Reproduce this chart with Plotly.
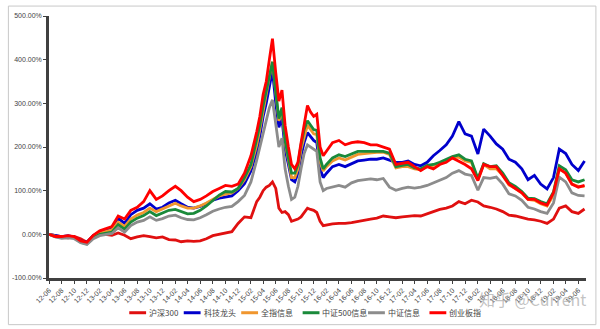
import plotly.graph_objects as go

# Sample dates: month starts, with half-month points through the 2015 boom and bust
dates = (
    ["2012-%02d-01" % m for m in range(6, 13)]
    + ["2013-%02d-01" % m for m in range(1, 13)]
    + ["2014-%02d-01" % m for m in range(1, 13)]
    + ["2015-01-01", "2015-02-01", "2015-03-01", "2015-03-16", "2015-04-01", "2015-04-16",
       "2015-05-01", "2015-05-16", "2015-06-01", "2015-06-16", "2015-07-01", "2015-07-16",
       "2015-08-01", "2015-08-16", "2015-09-01", "2015-09-16", "2015-10-01", "2015-10-16",
       "2015-11-01", "2015-11-16", "2015-12-01", "2015-12-16"]
    + ["2016-01-01", "2016-01-16"] + ["2016-%02d-01" % m for m in range(2, 13)]
    + ["2017-%02d-01" % m for m in range(1, 13)]
    + ["2018-%02d-01" % m for m in range(1, 13)]
    + ["2019-%02d-01" % m for m in range(1, 8)]
)

# Cumulative return (%) of each index since 2012-06
hs300 = [0, -3, -6, -8, -5, -10, -18,
         -3, 5, 0, -2, 3, -2, -10, -6, -3, -5, -8, -6,
         -12, -13, -17, -15, -16, -15, -10, -3, 0, 3, 6, 25,
         40, 38, 75, 85, 100, 108, 112, 120, 105, 60, 50, 52, 45, 30, 32, 35, 40, 50, 60, 57, 55, 50,
         30, 20, 22, 24, 25, 25, 27, 30, 33, 35, 37, 42, 40,
         38, 40, 42, 43, 42, 48, 52, 57, 60, 65, 75, 70,
         78, 74, 65, 62, 58, 52, 44, 42, 38, 35, 33, 30,
         25, 35, 60, 65, 52, 48, 58]

tech_leaders = [0, -3, -5, -3, -6, -15, -18,
                -3, 5, 10, 15, 37, 25, 45, 55, 60, 70, 58, 62,
                72, 78, 70, 62, 60, 64, 70, 78, 83, 85, 88, 100,
                116, 145, 190, 225, 270, 300, 340, 375, 300, 245, 265, 195, 160, 125, 120, 140, 180, 210, 233, 225, 215, 210,
                150, 130, 140, 155, 160, 155, 162, 168, 170, 172, 172, 175, 170,
                165, 165, 168, 160, 157, 165, 180, 192, 205, 225, 258, 230,
                225, 184, 241, 225, 207, 195, 172, 165, 150, 125, 135, 115,
                104, 130, 195, 185, 160, 146, 168]

all_share_it = [0, -4, -6, -5, -7, -17, -20,
                -5, 3, 6, 10, 28, 18, 35, 44, 50, 60, 52, 58,
                66, 71, 65, 60, 60, 65, 72, 80, 88, 92, 95, 105,
                125, 155, 205, 240, 285, 320, 360, 395, 320, 260, 285, 210, 170, 130, 130, 150, 195, 225, 250, 240, 230, 228,
                165, 145, 155, 168, 175, 170, 177, 183, 185, 187, 188, 188, 183,
                152, 155, 155, 150, 148, 155, 158, 163, 168, 175, 177, 168,
                165, 125, 160, 150, 150, 135, 113, 105, 95, 80, 78, 70,
                65, 90, 150, 140, 115, 110, 110]

csi500_it = [0, -5, -7, -6, -8, -18, -22,
             -8, 0, 3, 5, 22, 12, 28, 37, 43, 52, 43, 48,
             55, 57, 52, 47, 48, 55, 65, 77, 90, 98, 97, 105,
             130, 160, 215, 250, 295, 330, 365, 395, 325, 265, 290, 215, 175, 140, 140, 160, 205, 240, 260, 250, 240, 238,
             175, 150, 160, 175, 182, 178, 185, 190, 190, 190, 190, 190, 186,
             155, 158, 160, 152, 150, 158, 160, 165, 172, 178, 182, 172,
             168, 128, 162, 155, 157, 140, 118, 110, 98, 83, 82, 75,
             70, 97, 157, 148, 125, 120, 125]

csi_it = [0, -6, -9, -8, -10, -19, -23,
          -10, -3, 0, 2, 15, 5, 20, 28, 32, 40, 32, 36,
          42, 44, 38, 34, 33, 38, 45, 53, 58, 62, 64, 75,
          89, 120, 170, 200, 237, 265, 290, 308, 255, 200, 220, 150, 110, 80, 85, 110, 150, 185, 205, 200, 195, 190,
          120, 100, 105, 108, 112, 108, 118, 123, 125, 127, 125, 128, 108,
          101, 105, 108, 106, 108, 112, 118, 123, 130, 140, 146, 138,
          135, 101, 130, 128, 131, 115, 93, 88, 78, 62, 58, 52,
          48, 72, 131, 120, 95, 89, 88]

chinext = [0, -5, -5, -3, -5, -15, -18,
           -2, 8, 12, 18, 42, 35, 55, 62, 75, 100, 80, 88,
           100, 110, 100, 85, 75, 80, 88, 98, 105, 112, 110, 115,
           140, 180, 235, 270, 320, 350, 400, 448, 370, 305, 330, 250, 200, 160, 150, 165, 210, 250, 295, 280, 270, 275,
           200, 180, 190, 210, 215, 205, 210, 212, 210, 205, 205, 200, 195,
           160, 162, 165, 155, 146, 155, 150, 160, 165, 175, 168, 160,
           150, 123, 160, 155, 155, 135, 115, 105, 95, 80, 80, 72,
           67, 95, 150, 140, 115, 108, 112]

series = [
    ("沪深300", hs300, "#E01010"),
    ("科技龙头", tech_leaders, "#0000CC"),
    ("全指信息", all_share_it, "#F0962E"),
    ("中证500信息", csi500_it, "#1A8A3A"),
    ("中证信息", csi_it, "#8C8C8C"),
    ("创业板指", chinext, "#FF0000"),
]

y_ticks = [-100, 0, 100, 200, 300, 400, 500]
y_tick_text = ["%.2f%%" % v for v in y_ticks]

# Plot-area geometry (px) used to place the compact legend and the frame
PLOT_L, PLOT_R, PLOT_T, PLOT_B = 44, 586, 14, 278
PW, PH = PLOT_R - PLOT_L, PLOT_B - PLOT_T


def px_x(px):
    return (px - PLOT_L) / PW


def px_y(py):
    return (PLOT_B - py) / PH


fig = go.Figure()
for name, vals, color in series:
    fig.add_trace(go.Scatter(
        x=dates, y=vals, name=name, mode="lines",
        line=dict(color=color, width=2.8),
    ))

# Compact single-row legend: short line swatch followed by the series name
legend_left = [125, 180, 238, 300, 366, 428]
legend_y = 313
shapes = [dict(type="rect", xref="paper", yref="paper",
               x0=px_x(3), x1=px_x(596), y0=px_y(325), y1=px_y(4),
               line=dict(color="#C8C8C8", width=1), fillcolor="rgba(0,0,0,0)")]
annotations = []
for (name, _, color), lx in zip(series, legend_left):
    shapes.append(dict(type="line", xref="paper", yref="paper",
                       x0=px_x(lx), x1=px_x(lx + 17), y0=px_y(legend_y), y1=px_y(legend_y),
                       line=dict(color=color, width=3)))
    annotations.append(dict(text=name, xref="paper", yref="paper",
                            x=px_x(lx + 18), y=px_y(legend_y), xanchor="left", yanchor="middle",
                            showarrow=False,
                            font=dict(family="Noto Sans CJK SC", size=8, color="#444444")))

annotations.append(dict(text="知乎 @Current", xref="paper", yref="paper",
                        x=px_x(588), y=px_y(299), xanchor="right", yanchor="middle", showarrow=False,
                        font=dict(family="Noto Sans CJK SC", size=16, color="rgba(175,175,175,0.75)")))

fig.update_layout(
    width=600, height=329,
    margin=dict(l=PLOT_L, r=600 - PLOT_R, t=PLOT_T, b=329 - PLOT_B),
    paper_bgcolor="white", plot_bgcolor="white",
    font=dict(family="Liberation Sans, Noto Sans CJK SC", size=7, color="#333333"),
    showlegend=False,
    xaxis=dict(
        type="date", range=["2012-06-01", "2019-07-08"],
        tick0="2012-06-01", dtick="M2", tickformat="%y-%m", tickangle=-45,
        showgrid=False, zeroline=False,
        showline=True, linecolor="#404040", linewidth=2.5,
        ticks="outside", ticklen=3, tickcolor="#404040",
        tickfont=dict(size=7, color="#444444"),
    ),
    yaxis=dict(
        range=[-100, 500], tickvals=y_ticks, ticktext=y_tick_text,
        showgrid=False, zeroline=False,
        showline=True, linecolor="#404040", linewidth=2.5,
        ticks="outside", ticklen=3, tickcolor="#404040",
        tickfont=dict(size=7, color="#444444"),
    ),
    shapes=shapes,
    annotations=annotations,
)

fig.write_html("out.html")
